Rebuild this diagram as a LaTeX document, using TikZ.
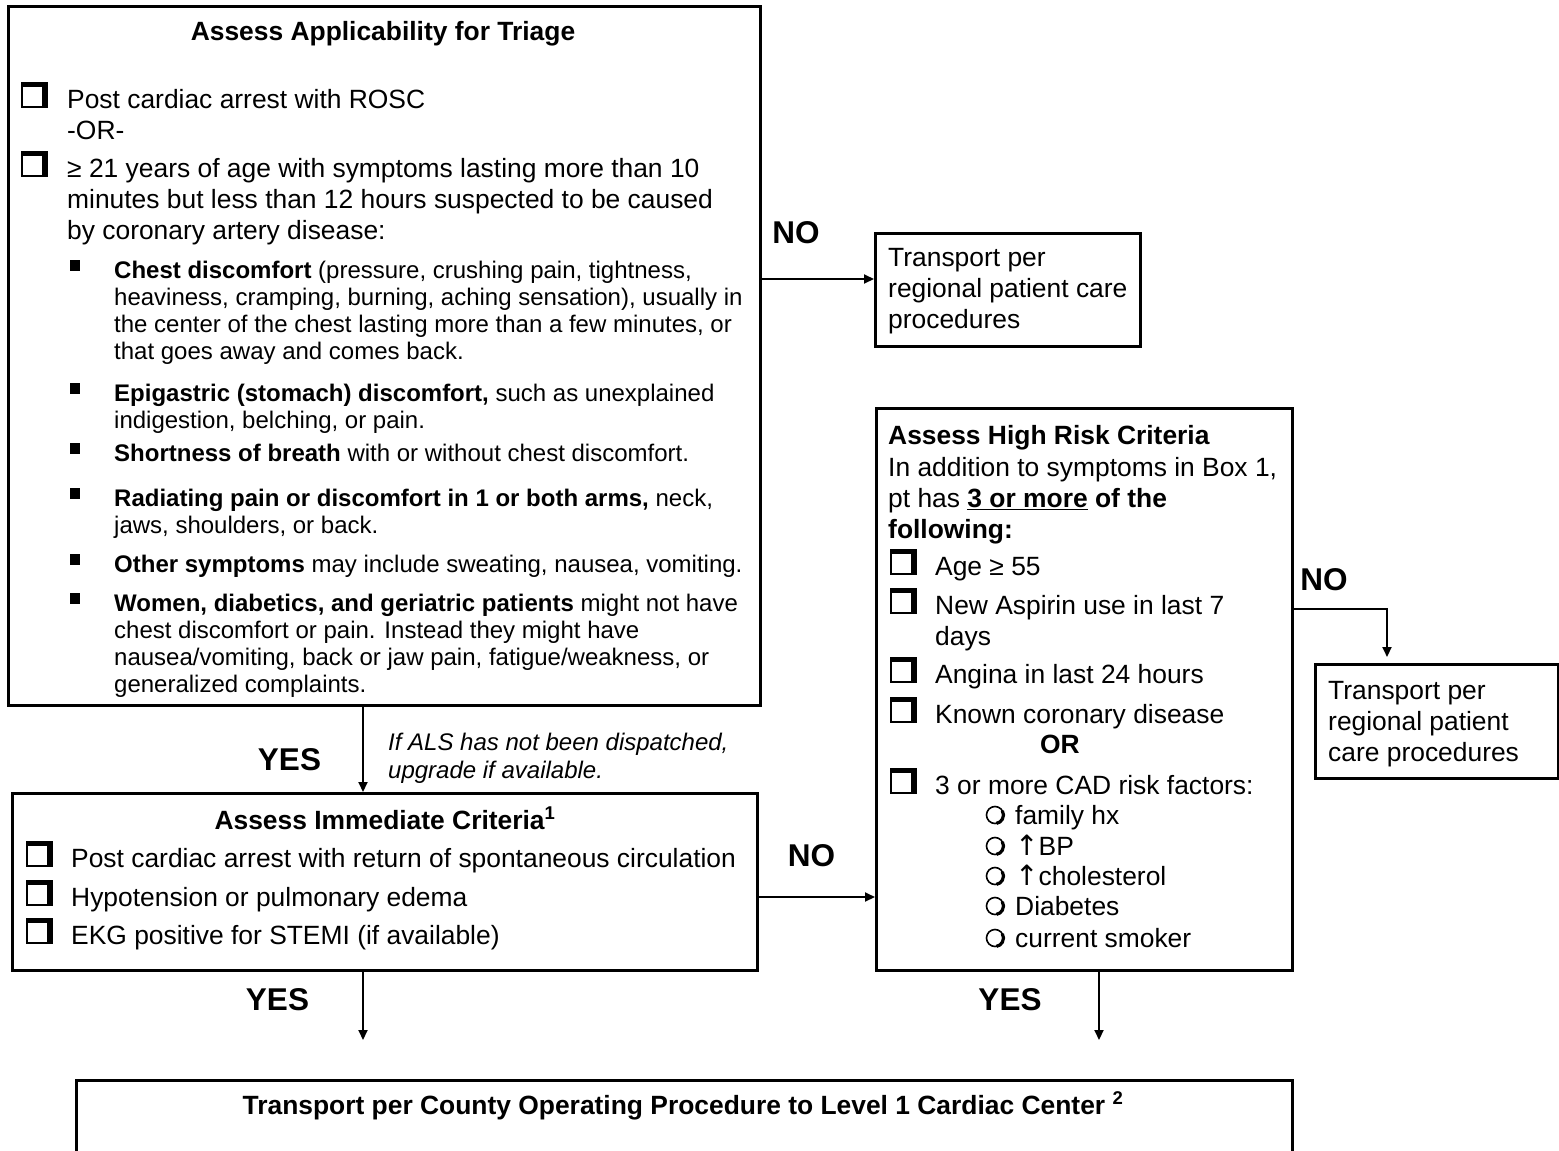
\documentclass[tikz,border=0pt]{standalone}
\usepackage{fontspec}
\setmainfont{Liberation Sans}
\newfontfamily\dejavu{DejaVu Sans}
\usetikzlibrary{arrows.meta}
\newcommand\lns[1]{\begin{tabular}[t]{@{}l@{}}#1\end{tabular}}
\newcommand\uparr{{\dejavu\fontsize{28}{31}\selectfont ↑}}
\begin{document}
\begin{tikzpicture}[x=1pt,y=-1pt,
 box/.style={draw, line width=3pt, anchor=north west, inner sep=0},
 txt/.style={inner sep=0, anchor=base west, font=\fontsize{26.4}{31}\selectfont},
 sml/.style={inner sep=0, anchor=base west, font=\fontsize{24}{27.3}\selectfont},
 note/.style={inner sep=0, anchor=base west, font=\itshape\fontsize{24}{28}\selectfont},
 ttl/.style={inner sep=0, anchor=base, font=\bfseries\fontsize{26.4}{31}\selectfont},
 lab/.style={inner sep=0, font=\bfseries\fontsize{31.5}{36}\selectfont},
 conn/.style={line width=2pt, -{Triangle[length=10pt,width=9pt]}},
 chkbox/.pic={\fill (0,0) rectangle (27,-26); \fill[white] (2,-2) rectangle (21,-21);},
 sqbul/.pic={\fill (0,-7) rectangle (10,-18);},
 ring/.pic={\draw[line width=1.6pt] (0,0) circle[radius=8.5]; \draw[line width=3.2pt] (-30:8.5) arc[start angle=-30,end angle=80,radius=8.5];}
]
\useasboundingbox (0,0) rectangle (1559,1151);
\clip (0,0) rectangle (1559,1151);
\fill[white] (0,0) rectangle (1559,1151);

% ---------- boxes ----------
\node[box, minimum width=752pt, minimum height=699pt] (b1) at (7,5) {};
\node[box, minimum width=265pt, minimum height=113pt] (tr1) at (874,232) {};
\node[box, minimum width=745pt, minimum height=177pt] (b2) at (11,792) {};
\node[box, minimum width=416pt, minimum height=562pt] (b3) at (875,407) {};
\node[box, minimum width=243pt, minimum height=114pt] (tr2) at (1314,663) {};
\node[box, minimum width=1216pt, minimum height=150pt] (bot) at (75,1079) {};

% ---------- box 1 ----------
\node[ttl] (b1t) at (383,40) {Assess Applicability for Triage};
\pic at (21,108) {chkbox};
\node[txt] (b1a) at (67,108) {\lns{Post cardiac arrest with ROSC\\-OR-}};
\pic at (21,177) {chkbox};
\node[txt] (b1b) at (67,177) {\lns{≥ 21 years of age with symptoms lasting more than 10\\
minutes but less than 12 hours suspected to be caused\\
by coronary artery disease:}};
\pic at (70,278) {sqbul};
\node[sml] (bu1) at (114,278) {\lns{\textbf{Chest discomfort} (pressure, crushing pain, tightness,\\
heaviness, cramping, burning, aching sensation), usually in\\
the center of the chest lasting more than a few minutes, or\\
that goes away and comes back.}};
\pic at (70,401) {sqbul};
\node[sml] (bu2) at (114,401) {\lns{\textbf{Epigastric (stomach) discomfort,} such as unexplained\\
indigestion, belching, or pain.}};
\pic at (70,461) {sqbul};
\node[sml] (bu3) at (114,461) {\textbf{Shortness of breath} with or without chest discomfort.};
\pic at (70,506) {sqbul};
\node[sml] (bu4) at (114,506) {\lns{\textbf{Radiating pain or discomfort in 1 or both arms,} neck,\\
jaws, shoulders, or back.}};
\pic at (70,572) {sqbul};
\node[sml] (bu5) at (114,572) {\textbf{Other symptoms} may include sweating, nausea, vomiting.};
\pic at (70,611) {sqbul};
\begin{scope}
\clip (7,5) rectangle (759,696);
\node[sml] (bu6) at (114,611) {\lns{\textbf{Women, diabetics, and geriatric patients} might not have\\
chest discomfort or pain. Instead they might have\\
nausea/vomiting, back or jaw pain, fatigue/weakness, or\\
generalized complaints.}};
\end{scope}

% ---------- top right box ----------
\node[txt] (tr1t) at (888,266) {\lns{Transport per\\regional patient care\\procedures}};

% ---------- box 2 ----------
\node[ttl] (b2t) at (385,829) {Assess Immediate Criteria\textsuperscript{1}};
\pic at (26,867) {chkbox};
\node[txt] (b2a) at (71,867) {Post cardiac arrest with return of spontaneous circulation};
\pic at (26,906) {chkbox};
\node[txt] (b2b) at (71,906) {Hypotension or pulmonary edema};
\pic at (26,944) {chkbox};
\node[txt] (b2c) at (71,944) {EKG positive for STEMI (if available)};

% ---------- box 3 ----------
\node[ttl, anchor=base west] (b3t) at (888,444) {Assess High Risk Criteria};
\node[txt] (b3i) at (888,476) {\lns{In addition to symptoms in Box 1,\\
pt has \textbf{\underline{3 or more} of the}\\
\textbf{following:}}};
\pic at (890,575) {chkbox};
\node[txt] (b3a) at (935,575) {Age ≥ 55};
\pic at (890,614) {chkbox};
\node[txt] (b3b) at (935,614) {\lns{New Aspirin use in last 7\\days}};
\pic at (890,683) {chkbox};
\node[txt] (b3c) at (935,683) {Angina in last 24 hours};
\pic at (890,723) {chkbox};
\node[txt] (b3d) at (935,723) {Known coronary disease};
\node[ttl] (b3or) at (1060,753) {OR};
\pic at (890,794) {chkbox};
\node[txt] (b3e) at (935,794) {3 or more CAD risk factors:};
\pic at (995,815) {ring};
\node[txt] (r1) at (1015,824) {family hx};
\pic at (995,846) {ring};
\node[txt] (r2) at (1015,855) {\uparr BP};
\pic at (995,876) {ring};
\node[txt] (r3) at (1015,885) {\uparr cholesterol};
\pic at (995,906) {ring};
\node[txt] (r4) at (1015,915) {Diabetes};
\pic at (995,938) {ring};
\node[txt] (r5) at (1015,947) {current smoker};

% ---------- right box ----------
\node[txt] (tr2t) at (1328,699) {\lns{Transport per\\regional patient\\care procedures}};

% ---------- bottom box ----------
\node[ttl] (bott) at (683,1114) {Transport per County Operating Procedure to Level 1 Cardiac Center \textsuperscript{2}};

% ---------- labels ----------
\node[lab] (no1) at (796,233) {NO};
\node[lab] (no2) at (1324,580) {NO};
\node[lab] (no3) at (811.5,856) {NO};
\node[lab] (yes1) at (289.5,760) {YES};
\node[lab] (yes2) at (277.5,1000) {YES};
\node[lab] (yes3) at (1010,1000) {YES};
\node[note] (als) at (388,750) {\lns{If ALS has not been dispatched,\\upgrade if available.}};

% ---------- connectors ----------
\coordinate (y279) at (0,279);
\coordinate (y897) at (0,897);
\coordinate (y609) at (0,609);
\coordinate (x363) at (363,0);
\coordinate (x1099) at (1099,0);
\coordinate (x1387) at (1387,0);
\draw[conn] (b1.east |- y279) -- (tr1.west |- y279);
\draw[conn] (b1.south -| x363) -- (b2.north -| x363);
\draw[conn] (b2.east |- y897) -- (b3.west |- y897);
\draw[conn, shorten >=6pt] (b3.east |- y609) -| (tr2.north -| x1387);
\draw[conn, shorten >=39pt] (b2.south -| x363) -- (bot.north -| x363);
\draw[conn, shorten >=39pt] (b3.south -| x1099) -- (bot.north -| x1099);
\end{tikzpicture}
\end{document}
